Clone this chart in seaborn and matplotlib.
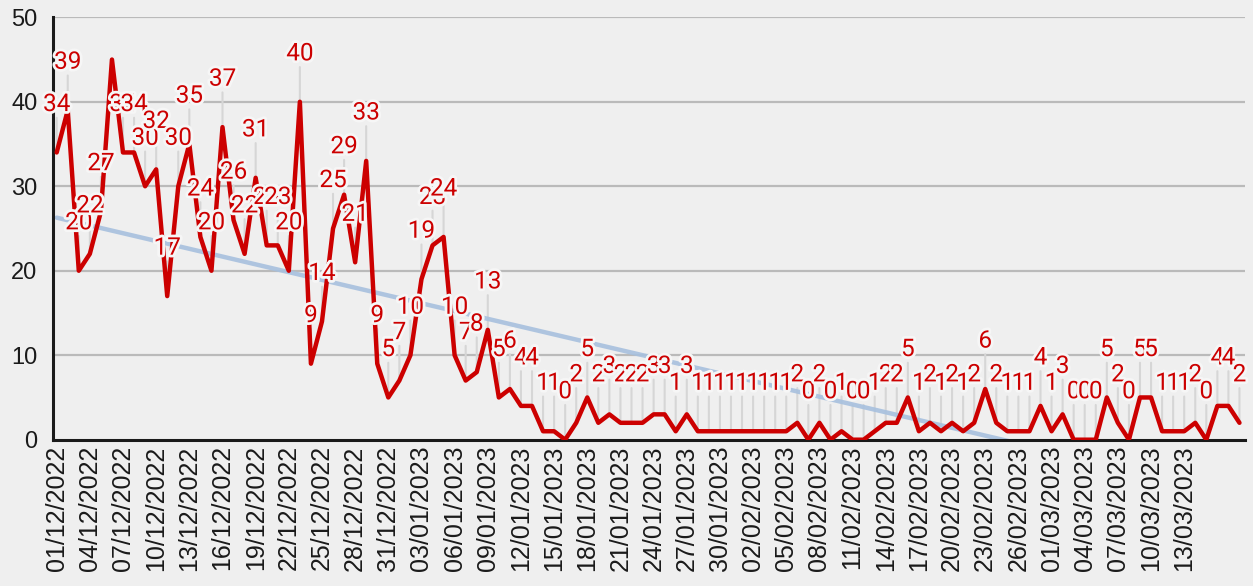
import numpy as np
import pandas as pd
import matplotlib
matplotlib.use("Agg")
import matplotlib.pyplot as plt
import matplotlib.patheffects as pe
import seaborn as sns

# ---- data ----
start_date = "2022-12-01"
values = [34, 39, 20, 22, 27, 45, 34, 34, 30, 32,
          17, 30, 35, 24, 20, 37, 26, 22, 31, 23,
          23, 20, 40, 9, 14, 25, 29, 21, 33, 9,
          5, 7, 10, 19, 23, 24, 10, 7, 8, 13,
          5, 6, 4, 4, 1, 1, 0, 2, 5, 2,
          3, 2, 2, 2, 3, 3, 1, 3, 1, 1,
          1, 1, 1, 1, 1, 1, 1, 2, 0, 2,
          0, 1, 0, 0, 1, 2, 2, 5, 1, 2,
          1, 2, 1, 2, 6, 2, 1, 1, 1, 4,
          1, 3, 0, 0, 0, 5, 2, 0, 5, 5,
          1, 1, 1, 2, 0, 4, 4, 2]
tick_labels = ["01/12/2022", "04/12/2022", "07/12/2022", "10/12/2022", "13/12/2022",
               "16/12/2022", "19/12/2022", "22/12/2022", "25/12/2022", "28/12/2022",
               "31/12/2022", "03/01/2023", "06/01/2023", "09/01/2023", "12/01/2023",
               "15/01/2023", "18/01/2023", "21/01/2023", "24/01/2023", "27/01/2023",
               "30/01/2023", "02/02/2023", "05/02/2023", "08/02/2023", "11/02/2023",
               "14/02/2023", "17/02/2023", "20/02/2023", "23/02/2023", "26/02/2023",
               "01/03/2023", "04/03/2023", "07/03/2023", "10/03/2023", "13/03/2023"]
y_ticks = [0, 10, 20, 30, 40, 50]

dates = pd.date_range(start_date, periods=len(values), freq="D")
df = pd.DataFrame({"date": dates, "value": values})
df["day"] = np.arange(len(df))

BG = "#efefef"
RED = "#cc0000"

sns.set_theme(style="white")
plt.rcParams["font.family"] = ["Roboto", "DejaVu Sans"]

fig = plt.figure(figsize=(12.53, 5.86), dpi=100, facecolor=BG)
ax = fig.add_axes([52.7 / 1253, 1 - 439.7 / 586, (1245 - 52.7) / 1253, (439.7 - 17.3) / 586])
ax.set_facecolor(BG)

# gridlines
for t in y_ticks[1:]:
    ax.axhline(t, color="#bababa", lw=1.6, zorder=0.5)

# trend line (linear least squares)
slope, intercept = np.polyfit(df["day"], df["value"], 1)
trend = intercept + slope * df["day"]
sns.lineplot(x=df["day"], y=trend, ax=ax, color="#a7c0de", lw=3.2, zorder=2, alpha=0.9)

ax.set_xlim(-0.36, len(values) - 1 + 0.5)
ax.set_ylim(0, 50)

off_pt = 34.5
px_per_unit = (439.7 - 17.3) / 50
off_units = off_pt / 72 * 100 / px_per_unit

# leader lines
for d, v in zip(df["day"], df["value"]):
    if v + off_units + 1.0 > 50:
        continue
    ax.annotate("", xy=(d, v), xytext=(0, 25), textcoords="offset points",
                arrowprops=dict(arrowstyle="-", color="#d6d6d6", lw=1.5,
                                shrinkA=0, shrinkB=0), zorder=1)

sns.lineplot(data=df, x="day", y="value", ax=ax, color=RED, lw=3.2, zorder=3)

# data labels
for d, v in zip(df["day"], df["value"]):
    if v + off_units + 1.0 > 50:
        continue
    ax.annotate(str(v), xy=(d, v), xytext=(0, off_pt), textcoords="offset points",
                ha="center", va="center", fontsize=17.5, color=RED, zorder=5,
                annotation_clip=False,
                path_effects=[pe.withStroke(linewidth=4, foreground="#f6f6f6")])

ax.set_xticks(df["day"][::3][:len(tick_labels)])
ax.set_xticklabels(tick_labels, rotation=90, fontsize=18,
                   family=["Liberation Sans", "DejaVu Sans"], color="#1a1a1a")
ax.set_yticks(y_ticks)
ax.set_yticklabels([str(t) for t in y_ticks], fontsize=17,
                   family=["Liberation Sans", "DejaVu Sans"], color="#1a1a1a")
ax.tick_params(axis="both", length=0, pad=4)
ax.tick_params(axis="y", pad=11)

for s in ["top", "right"]:
    ax.spines[s].set_visible(False)
for s in ["left", "bottom"]:
    ax.spines[s].set_color("#1a1a1a")
    ax.spines[s].set_linewidth(2.2)

ax.set_xlabel("")
ax.set_ylabel("")

fig.savefig("out.png", dpi=100, facecolor=BG)
